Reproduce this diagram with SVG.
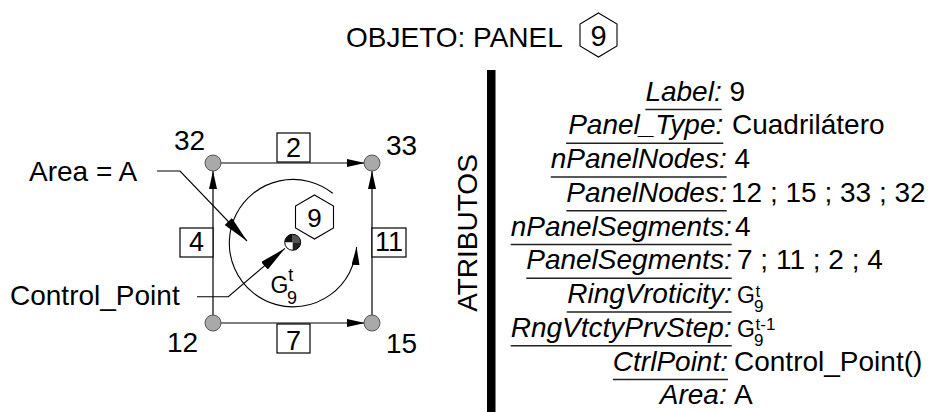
<svg xmlns="http://www.w3.org/2000/svg" width="930" height="412" viewBox="0 0 930 412">
<style>
.t{font-family:"Liberation Sans",Arial,Helvetica,sans-serif;fill:#000}
.f28{font-size:28px}
.it{font-style:italic}
.ul{stroke:#222;stroke-width:1.3}
.edge{stroke:#000;stroke-width:1.2;fill:none}
.lead{stroke:#000;stroke-width:1.1;fill:none}
.node{fill:#a9a9a9;stroke:#555;stroke-width:1}
.box{fill:#fff;stroke:#000;stroke-width:1.2}
.hex{fill:#fff;stroke:#000;stroke-width:1.1}
</style>
<defs>
<marker id="arr" markerUnits="userSpaceOnUse" markerWidth="18" markerHeight="8" refX="18" refY="4" orient="auto">
<path d="M0,0 L18,4 L0,8 Z" fill="#000"/>
</marker>
<marker id="big" markerUnits="userSpaceOnUse" markerWidth="27" markerHeight="10" refX="27" refY="5" orient="auto">
<path d="M0,0 L27,5 L0,10 Z" fill="#000"/>
</marker>
</defs>
<rect width="930" height="412" fill="#fff"/>

<g id="title">
<text class="t f28" x="346" y="47">OBJETO: PANEL</text>
<polygon class="hex" points="598.5,13 617,24 617,46 598.5,57 580,46 580,24"/>
<text class="t" x="598.5" y="46" font-size="29" text-anchor="middle">9</text>
</g>

<g id="connectors">
<line class="edge" x1="221" y1="163" x2="365" y2="163" marker-end="url(#arr)"/>
<line class="edge" x1="221" y1="323" x2="365" y2="323" marker-end="url(#arr)"/>
<line class="edge" x1="213" y1="315" x2="213" y2="171" marker-end="url(#arr)"/>
<line class="edge" x1="372" y1="315" x2="372" y2="171" marker-end="url(#arr)"/>
<g id="seg2"><rect class="box" x="277" y="133" width="33" height="29"/><text class="t" x="293.5" y="157" font-size="27" text-anchor="middle">2</text></g>
<g id="seg7"><rect class="box" x="277" y="324" width="33" height="29"/><text class="t" x="293.5" y="350" font-size="27" text-anchor="middle">7</text></g>
<g id="seg4"><rect class="box" x="180" y="228" width="33" height="29"/><text class="t" x="196.5" y="251" font-size="27" text-anchor="middle">4</text></g>
<g id="seg11"><rect class="box" x="372" y="228" width="34" height="29"/><text class="t" x="389" y="251" font-size="27" text-anchor="middle">11</text></g>
<polyline class="lead" points="157,171 180,171 247,241" marker-end="url(#big)"/>
<polyline class="lead" points="197,296.7 228.3,296.7 285,248.3" marker-end="url(#big)"/>
</g>

<g id="node32"><circle class="node" cx="213" cy="163" r="8"/><text class="t f28" x="174" y="150">32</text></g>
<g id="node33"><circle class="node" cx="372" cy="163" r="8"/><text class="t f28" x="386" y="155">33</text></g>
<g id="node12"><circle class="node" cx="213" cy="323" r="8"/><text class="t f28" x="167" y="352">12</text></g>
<g id="node15"><circle class="node" cx="372" cy="323" r="8"/><text class="t f28" x="386" y="353">15</text></g>

<g id="panel">
<path class="lead" d="M332.7,193.3 A63.7,63.7 0 1 0 356.6,247" marker-end="url(#arr)"/>
<polygon class="hex" points="314.5,195 333.5,206 333.5,228 314.5,239 295.5,228 295.5,206"/>
<text class="t" x="314.5" y="227" font-size="26" text-anchor="middle">9</text>
<g id="ctrl">
<circle cx="292.7" cy="242.3" r="8" fill="#fff"/>
<path d="M292.7,242.3 L284.7,242.3 A8,8 0 0 1 292.7,234.3 Z" fill="#111"/>
<path d="M292.7,242.3 L292.7,234.3 A8,8 0 0 1 300.7,242.3 Z" fill="#555"/>
<path d="M292.7,242.3 L300.7,242.3 A8,8 0 0 1 292.7,250.3 Z" fill="#222"/>
<circle cx="292.7" cy="242.3" r="8" fill="none" stroke="#000" stroke-width="1"/>
</g>
<text class="t" x="270.5" y="293.3" font-size="23">G</text>
<text class="t" x="288.3" y="281" font-size="18">t</text>
<text class="t" x="287" y="303.5" font-size="18">9</text>
</g>

<g id="leaders">
<text class="t f28" x="29" y="181">Area = A</text>
<text class="t f28" x="10" y="305">Control_Point</text>
</g>

<g id="attributes">
<text class="t" transform="translate(477,233) rotate(-90)" font-size="28" text-anchor="middle">ATRIBUTOS</text>
<rect x="487" y="70" width="8.5" height="342" fill="#000"/>

<text class="t f28 it" x="721.7" y="100.7" text-anchor="end">Label:</text>
<line class="ul" x1="645.4" y1="109.5" x2="721.7" y2="109.5"/>
<text class="t f28" x="729.5" y="100.7">9</text>

<text class="t f28 it" x="723.3" y="134.45" text-anchor="end">Panel_Type:</text>
<line class="ul" x1="566.1" y1="143.25" x2="723.3" y2="143.25"/>
<text class="t f28" x="732" y="134.45">Cuadrilátero</text>

<text class="t f28 it" x="726.7" y="168.2" text-anchor="end">nPanelNodes:</text>
<line class="ul" x1="550.8" y1="177" x2="726.7" y2="177"/>
<text class="t f28" x="734.5" y="168.2">4</text>

<text class="t f28 it" x="726.7" y="201.95" text-anchor="end">PanelNodes:</text>
<line class="ul" x1="566.4" y1="210.75" x2="726.7" y2="210.75"/>
<text class="t f28" x="731" y="201.95">12 ; 15 ; 33 ; 32</text>

<text class="t f28 it" x="731.7" y="235.7" text-anchor="end">nPanelSegments:</text>
<line class="ul" x1="510.7" y1="244.5" x2="731.7" y2="244.5"/>
<text class="t f28" x="735" y="235.7">4</text>

<text class="t f28 it" x="731.7" y="269.45" text-anchor="end">PanelSegments:</text>
<line class="ul" x1="526.3" y1="278.25" x2="731.7" y2="278.25"/>
<text class="t f28" x="737" y="269.45">7 ; 11 ; 2 ; 4</text>

<text class="t f28 it" x="731.7" y="303.2" text-anchor="end">RingVroticity:</text>
<line class="ul" x1="566.8" y1="312" x2="731.7" y2="312"/>
<text class="t" x="737" y="303.2" font-size="23">G</text>
<text class="t" x="755.5" y="296.5" font-size="17">t</text>
<text class="t" x="754" y="312" font-size="17">9</text>

<text class="t f28 it" x="731.7" y="336.95" text-anchor="end">RngVtctyPrvStep:</text>
<line class="ul" x1="510.7" y1="345.75" x2="731.7" y2="345.75"/>
<text class="t" x="737" y="336.95" font-size="23">G</text>
<text class="t" x="755.5" y="330.2" font-size="17">t-1</text>
<text class="t" x="754" y="345.8" font-size="17">9</text>

<text class="t f28 it" x="728" y="370.7" text-anchor="end">CtrlPoint:</text>
<line class="ul" x1="612.9" y1="379.5" x2="728" y2="379.5"/>
<text class="t f28" x="734" y="370.7">Control_Point()</text>

<text class="t f28 it" x="726.7" y="404.45" text-anchor="end">Area:</text>
<line class="ul" x1="659.8" y1="413.25" x2="726.7" y2="413.25"/>
<text class="t f28" x="734" y="404.45">A</text>
</g>
</svg>
